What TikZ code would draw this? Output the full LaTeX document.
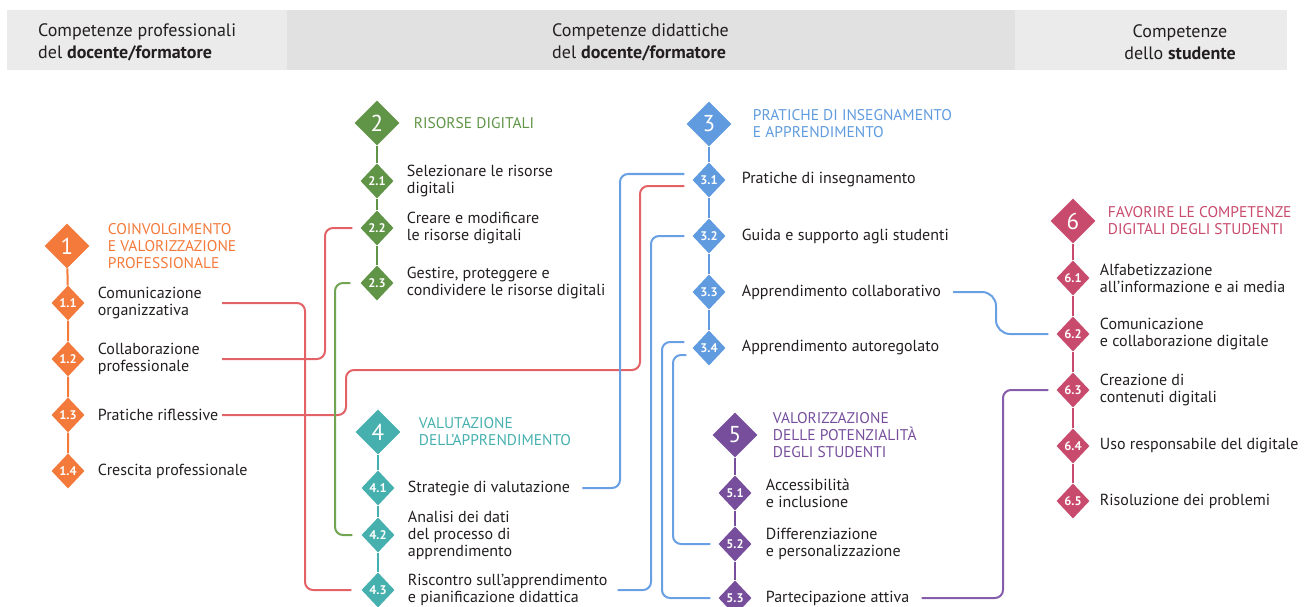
\documentclass[tikz,border=0pt]{standalone}
\usepackage{fontspec}
\setmainfont{PT Sans}
\usetikzlibrary{shapes.geometric,positioning}

\definecolor{arancio}{RGB}{243,122,58}
\definecolor{verde}{RGB}{96,148,70}
\definecolor{azzurro}{RGB}{95,155,222}
\definecolor{ottanio}{RGB}{70,176,174}
\definecolor{viola}{RGB}{118,78,156}
\definecolor{cremisi}{RGB}{200,74,108}
\definecolor{rosso}{RGB}{226,98,102}
\definecolor{lineablu}{RGB}{105,160,228}
\definecolor{lineaverde}{RGB}{112,164,82}
\definecolor{lineaviola}{RGB}{132,92,170}
\definecolor{fascia}{RGB}{235,235,235}
\definecolor{fasciascura}{RGB}{226,225,225}
\definecolor{testo}{RGB}{35,31,32}

\begin{document}
\begin{tikzpicture}[x=1pt,y=-1pt,
  area/.style={diamond,fill=#1,text=white,minimum width=45pt,minimum height=45pt,inner sep=0pt,font=\fontsize{23}{23}\selectfont},
  comp/.style={diamond,fill=#1,text=white,minimum width=33pt,minimum height=35pt,inner sep=0pt,font=\fontsize{12.5}{12.5}\selectfont\bfseries},
  titolo/.style={text=#1,align=left,inner sep=0pt,font=\fontsize{15.5}{17}\selectfont},
  voce/.style={text=testo,align=left,inner sep=0pt,font=\fontsize{16}{17}\selectfont},
  testata/.style={text=testo,inner sep=0pt,font=\fontsize{18}{22}\selectfont},
  asse/.style={draw=#1,line width=2pt},
  filo/.style={draw=#1,line width=2pt,rounded corners=8pt},
  node distance=13pt]
  \useasboundingbox (0,0) rectangle (1304,607);

  % testata
  \fill[fascia] (7,10) rectangle (287,70);
  \fill[fasciascura] (287,10) rectangle (1015,70);
  \fill[fascia] (1015,10) rectangle (1287,70);
  \node[testata,anchor=west,align=left] (h1) at (38,42) {Competenze professionali\\del \textbf{docente/formatore}};
  \node[testata,anchor=west,align=left] (h2) at (552,42) {Competenze didattiche\\del \textbf{docente/formatore}};
  \node[testata,align=center] (h3) at (1180,42) {Competenze\\dello \textbf{studente}};

  % area 1
  \node[area=arancio] (a1) at (67,246) {1};
  \node[titolo=arancio,right=18pt of a1] (ta1) {COINVOLGIMENTO\\E VALORIZZAZIONE\\PROFESSIONALE};
  \node[comp=arancio] (c11) at (68,303) {1.1};
  \node[comp=arancio] (c12) at (68,359) {1.2};
  \node[comp=arancio] (c13) at (68,415) {1.3};
  \node[comp=arancio] (c14) at (68,471) {1.4};
  \node[voce,right=of c11] (t11) {Comunicazione\\organizzativa};
  \node[voce,right=of c12] (t12) {Collaborazione\\professionale};
  \node[voce,right=of c13] (t13) {Pratiche riflessive};
  \node[voce,right=of c14] (t14) {Crescita professionale};
  \draw[asse=arancio] (a1) -- (c11) (c11) -- (c12) (c12) -- (c13) (c13) -- (c14);

  % area 2
  \node[area=verde] (a2) at (377,123) {2};
  \node[titolo=verde,right=14pt of a2] (ta2) {RISORSE DIGITALI};
  \node[comp=verde] (c21) at (377,181) {2.1};
  \node[comp=verde] (c22) at (377,228) {2.2};
  \node[comp=verde] (c23) at (377,283) {2.3};
  \node[voce,right=of c21] (t21) {Selezionare le risorse\\digitali};
  \node[voce,right=of c22] (t22) {Creare e modificare\\le risorse digitali};
  \node[voce,right=of c23] (t23) {Gestire, proteggere e\\condividere le risorse digitali};
  \draw[asse=verde] (a2) -- (c21) (c21) -- (c22) (c22) -- (c23);

  % area 3
  \node[area=azzurro] (a3) at (709,124) {3};
  \node[titolo=azzurro,right=21pt of a3] (ta3) {PRATICHE DI INSEGNAMENTO\\E APPRENDIMENTO};
  \node[comp=azzurro] (c31) at (709,180) {3.1};
  \node[comp=azzurro] (c32) at (709,236) {3.2};
  \node[comp=azzurro] (c33) at (709,292) {3.3};
  \node[comp=azzurro] (c34) at (709,348) {3.4};
  \node[voce,right=16pt of c31] (t31) {Pratiche di insegnamento};
  \node[voce,right=16pt of c32] (t32) {Guida e supporto agli studenti};
  \node[voce,right=16pt of c33] (t33) {Apprendimento collaborativo};
  \node[voce,right=16pt of c34] (t34) {Apprendimento autoregolato};
  \draw[asse=azzurro] (a3) -- (c31) (c31) -- (c32) (c32) -- (c33) (c33) -- (c34);

  % area 4
  \node[area=ottanio] (a4) at (378,432) {4};
  \node[titolo=ottanio,right=18pt of a4] (ta4) {VALUTAZIONE\\DELL’APPRENDIMENTO};
  \node[comp=ottanio] (c41) at (378,488) {4.1};
  \node[comp=ottanio] (c42) at (378,535) {4.2};
  \node[comp=ottanio] (c43) at (378,590) {4.3};
  \node[voce,right=of c41] (t41) {Strategie di valutazione};
  \node[voce,right=of c42] (t42) {Analisi dei dati\\del processo di\\apprendimento};
  \node[voce,right=of c43] (t43) {Riscontro sull’apprendimento\\e pianificazione didattica};
  \draw[asse=ottanio] (a4) -- (c41) (c41) -- (c42) (c42) -- (c43);

  % area 5
  \node[area=viola] (a5) at (735,435) {5};
  \node[titolo=viola,right=15pt of a5] (ta5) {VALORIZZAZIONE\\DELLE POTENZIALITÀ\\DEGLI STUDENTI};
  \node[comp=viola] (c51) at (735,493) {5.1};
  \node[comp=viola] (c52) at (735,544) {5.2};
  \node[comp=viola] (c53) at (735,598) {5.3};
  \node[voce,right=14pt of c51] (t51) {Accessibilità\\e inclusione};
  \node[voce,right=14pt of c52] (t52) {Differenziazione\\e personalizzazione};
  \node[voce,right=14pt of c53] (t53) {Partecipazione attiva};
  \draw[asse=viola] (a5) -- (c51) (c51) -- (c52) (c52) -- (c53);

  % area 6
  \node[area=cremisi] (a6) at (1073,221) {6};
  \node[titolo=cremisi,right=12pt of a6] (ta6) {FAVORIRE LE COMPETENZE\\DIGITALI DEGLI STUDENTI};
  \node[comp=cremisi] (c61) at (1073,278) {6.1};
  \node[comp=cremisi] (c62) at (1073,334) {6.2};
  \node[comp=cremisi] (c63) at (1073,390) {6.3};
  \node[comp=cremisi] (c64) at (1073,446) {6.4};
  \node[comp=cremisi] (c65) at (1073,501) {6.5};
  \node[voce,right=10pt of c61] (t61) {Alfabetizzazione\\all’informazione e ai media};
  \node[voce,right=10pt of c62] (t62) {Comunicazione\\e collaborazione digitale};
  \node[voce,right=10pt of c63] (t63) {Creazione di\\contenuti digitali};
  \node[voce,right=10pt of c64] (t64) {Uso responsabile del digitale};
  \node[voce,right=10pt of c65] (t65) {Risoluzione dei problemi};
  \draw[asse=cremisi] (a6) -- (c61) (c61) -- (c62) (c62) -- (c63) (c63) -- (c64) (c64) -- (c65);

  % guide dei collegamenti
  \coordinate (u1) at (222,0);
  \coordinate (r1) at (305,0);
  \coordinate (r2) at (325,0);
  \coordinate (r3) at (346,0);
  \coordinate (r4) at (640,0);
  \coordinate (q1) at (0,370);
  \coordinate (g1) at (335,0);
  \coordinate (b1) at (620,0);
  \coordinate (b2) at (651,0);
  \coordinate (b3) at (662,0);
  \coordinate (b4) at (673,0);
  \coordinate (b5) at (996,0);
  \coordinate (p1) at (1003,0);
  \coordinate (e31r) at ([xshift=-8pt,yshift=-6pt]c31.west);
  \coordinate (e31b) at ([xshift=-8pt,yshift=6pt]c31.west);
  \coordinate (e34a) at ([xshift=-8pt,yshift=6pt]c34.west);
  \coordinate (e34b) at ([xshift=-6pt,yshift=-7pt]c34.west);

  \draw[filo=rosso] (u1 |- c11) -- (r1 |- c11) -- (r1 |- c43) -- ([xshift=-10pt]c43.west);
  \draw[filo=rosso] (u1 |- c12) -- (r2 |- c12) -- (r2 |- c22) -- ([xshift=-8pt]c22.west);
  \draw[filo=rosso] (u1 |- c13) -- (r3 |- c13) -- (r3 |- q1) -- (r4 |- q1) -- (r4 |- e31r) -- (e31r);
  \draw[filo=lineaverde] ([xshift=-10pt]c23.west) -- (g1 |- c23) -- (g1 |- c42) -- ([xshift=-9pt]c42.west);
  \draw[filo=lineablu] (e31b) -- (b1 |- e31b) -- (b1 |- c41) -- ([xshift=12pt]t41.east);
  \draw[filo=lineablu] ([xshift=-8pt]c32.west) -- (b2 |- c32) -- (b2 |- t43) -- ([xshift=10pt]t43.east);
  \draw[filo=lineablu] (e34a) -- (b3 |- e34a) -- (b3 |- c53) -- ([xshift=-8pt]c53.west);
  \draw[filo=lineablu] (e34b) -- (b4 |- e34b) -- (b4 |- c52) -- ([xshift=-8pt]c52.west);
  \draw[filo=lineablu,rounded corners=14pt] ([xshift=12pt]t33.east) -- (b5 |- c33) -- (b5 |- c62) -- ([xshift=-8pt]c62.west);
  \draw[filo=lineaviola] ([xshift=12pt]t53.east) -- (p1 |- c53) -- (p1 |- c63) -- ([xshift=-8pt]c63.west);
\end{tikzpicture}
\end{document}
